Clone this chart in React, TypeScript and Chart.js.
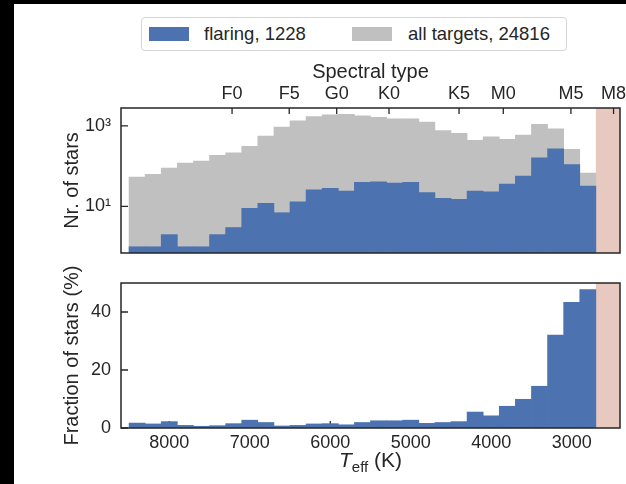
import React, { useEffect, useRef } from "react";
import { Chart, registerables } from "chart.js";

Chart.register(...registerables);

// 200 K wide Teff bins, centres from hot to cool
const binCenters = [
  8400, 8200, 8000, 7800, 7600, 7400, 7200, 7000, 6800, 6600, 6400, 6200, 6000, 5800, 5600,
  5400, 5200, 5000, 4800, 4600, 4400, 4200, 4000, 3800, 3600, 3400, 3200, 3000, 2800,
];
const allTargets = [
  54, 63, 90, 120, 134, 186, 215, 310, 557, 929, 1330, 1710, 1870, 1945, 1765, 1640, 1490, 1490,
  1235, 770, 650, 437, 535, 461, 589, 1100, 843, 261, 67,
];
const flaring = [
  1, 1, 2, 1, 1, 2, 3, 9, 12, 7, 13, 26, 28, 24, 40, 41, 38, 40, 22, 16, 15, 24, 23, 36, 57, 162,
  270, 109, 32,
];
const flaringFraction = [
  1.7, 1.4, 2.2, 0.9, 0.6, 0.8, 1.5, 2.7, 1.9, 0.7, 0.9, 1.4, 1.5, 1.1, 1.9, 2.5, 2.5, 2.7, 1.6,
  1.9, 2.2, 5.5, 4.2, 7.5, 9.9, 14.4, 32.0, 43.3, 47.7,
];
const spectralTypes = ["F0", "F5", "G0", "K0", "K5", "M0", "M5", "M8"];
const spectralTeff = [7220, 6510, 5920, 5270, 4400, 3850, 3010, 2480];
const teffTicks = [8000, 7000, 6000, 5000, 4000, 3000];
const countTicks = [10, 1000];
const countTickLabels = ["10\u00B9", "10\u00B3"];
const fractionTicks = [0, 20, 40];
const legendLabels = ["flaring, 1228", "all targets, 24816"];

const TEFF_MIN = 2400;
const TEFF_MAX = 8600;
const UNCOVERED_FROM = 2700;

const FONT = '"Liberation Sans", Arial, Helvetica, sans-serif';
const INK = "#262626";
const BLUE = "#4c72b0";
const GRAY = "#c0c0c0";
const SPAN = "rgb(232,201,192)";

type TickSpec = { axis: string; values: number[]; len: number; side: "left" | "top" | "bottom" };

// shaded Teff range, inward tick marks (under the bars) and the axes frame
function panelDecor(id: string, ticks: TickSpec[]) {
  return {
    id,
    beforeDatasetsDraw(chart: any) {
      const { ctx, chartArea: a, scales } = chart;
      const x0 = scales.x.getPixelForValue(UNCOVERED_FROM);
      ctx.save();
      ctx.fillStyle = SPAN;
      ctx.fillRect(x0, a.top, a.right - x0, a.bottom - a.top);
      ctx.strokeStyle = INK;
      ctx.lineWidth = 1.3;
      ctx.beginPath();
      for (const t of ticks) {
        const s = scales[t.axis];
        for (const v of t.values) {
          const p = s.getPixelForValue(v);
          if (t.side === "left") {
            ctx.moveTo(a.left, p);
            ctx.lineTo(a.left + t.len, p);
          } else if (t.side === "top") {
            ctx.moveTo(p, a.top);
            ctx.lineTo(p, a.top + t.len);
          } else {
            ctx.moveTo(p, a.bottom);
            ctx.lineTo(p, a.bottom - t.len);
          }
        }
      }
      ctx.stroke();
      ctx.restore();
    },
    afterDatasetsDraw(chart: any) {
      const { ctx, chartArea: a } = chart;
      ctx.save();
      ctx.strokeStyle = INK;
      ctx.lineWidth = 1.5;
      ctx.strokeRect(a.left, a.top, a.right - a.left, a.bottom - a.top);
      ctx.restore();
    },
  };
}

// x-axis title with italic T and subscript "eff"
const teffTitle = {
  id: "teffTitle",
  afterDraw(chart: any) {
    const { ctx, chartArea: a } = chart;
    const cx = (a.left + a.right) / 2;
    const base = a.bottom + 39;
    const fT = `italic 21px ${FONT}`;
    const fSub = `15px ${FONT}`;
    const fMain = `21px ${FONT}`;
    ctx.save();
    ctx.fillStyle = INK;
    ctx.textBaseline = "alphabetic";
    ctx.textAlign = "left";
    ctx.font = fT;
    const wT = ctx.measureText("T").width;
    ctx.font = fSub;
    const wS = ctx.measureText("eff").width;
    ctx.font = fMain;
    const wK = ctx.measureText(" (K)").width;
    let x = cx - (wT + wS + wK) / 2;
    ctx.font = fT;
    ctx.fillText("T", x, base);
    x += wT;
    ctx.font = fSub;
    ctx.fillText("eff", x, base + 5);
    x += wS;
    ctx.font = fMain;
    ctx.fillText(" (K)", x, base);
    ctx.restore();
  },
};

const tickFont = { family: FONT, size: 18 };
const titleFont = { family: FONT, size: 20 };

function barSet(label: string, values: number[], color: string, order: number) {
  return {
    label,
    data: binCenters.map((t, i) => ({ x: t, y: values[i] })),
    backgroundColor: color,
    borderWidth: 0,
    grouped: false,
    barPercentage: 1,
    categoryPercentage: 1,
    order,
  };
}

const hiddenX = {
  type: "linear" as const,
  reverse: true,
  min: TEFF_MIN,
  max: TEFF_MAX,
  offset: false,
  display: false,
  grid: { offset: false },
};

export default function App() {
  const topRef = useRef<HTMLCanvasElement>(null);
  const botRef = useRef<HTMLCanvasElement>(null);

  useEffect(() => {
    Chart.defaults.font.family = FONT;
    Chart.defaults.color = INK;

    const countChart = new Chart(topRef.current!, {
      type: "bar",
      data: {
        datasets: [
          barSet(legendLabels[0], flaring, BLUE, 0),
          barSet(legendLabels[1], allTargets, GRAY, 1),
        ],
      },
      options: {
        animation: false,
        responsive: false,
        maintainAspectRatio: false,
        layout: { padding: { left: 0, right: 6, top: 0, bottom: 9 } },
        plugins: { legend: { display: false }, tooltip: { enabled: false } },
        scales: {
          x: hiddenX,
          x2: {
            type: "linear",
            position: "top",
            reverse: true,
            min: TEFF_MIN,
            max: TEFF_MAX,
            offset: false,
            grid: { display: false, drawTicks: false },
            border: { display: false },
            ticks: {
              autoSkip: false,
              maxRotation: 0,
              padding: 3.5,
              font: tickFont,
              color: INK,
              callback: (v: any) => spectralTypes[spectralTeff.indexOf(Number(v))] ?? "",
            },
            afterBuildTicks: (s: any) => {
              s.ticks = spectralTeff.map((v) => ({ value: v }));
            },
            afterFit: (s: any) => {
              s.height = 53;
              s.paddingLeft = 0;
              s.paddingRight = 0;
            },
            title: {
              display: true,
              text: "Spectral type",
              font: titleFont,
              color: INK,
              padding: { top: 5, bottom: 0 },
            },
          },
          y: {
            type: "logarithmic",
            min: 0.73,
            max: 2780,
            grid: { display: false, drawTicks: false },
            border: { display: false },
            ticks: {
              padding: 10,
              font: tickFont,
              color: INK,
              callback: (v: any) => countTickLabels[countTicks.indexOf(Number(v))] ?? "",
            },
            afterBuildTicks: (s: any) => {
              s.ticks = countTicks.map((v) => ({ value: v }));
            },
            afterFit: (s: any) => {
              s.width = 121;
              s.paddingTop = 0;
              s.paddingBottom = 0;
            },
            title: {
              display: true,
              text: "Nr. of stars",
              font: titleFont,
              color: INK,
              padding: { top: 60, bottom: 0 },
            },
          },
        },
      } as any,
      plugins: [
        panelDecor("countDecor", [
          { axis: "y", values: countTicks, len: 7, side: "left" },
          { axis: "x2", values: spectralTeff, len: 6, side: "top" },
        ]),
      ],
    });

    const fractionChart = new Chart(botRef.current!, {
      type: "bar",
      data: {
        datasets: [barSet("flaring fraction", flaringFraction, BLUE, 0)],
      },
      options: {
        animation: false,
        responsive: false,
        maintainAspectRatio: false,
        layout: { padding: { left: 0, right: 6, top: 18, bottom: 0 } },
        plugins: { legend: { display: false }, tooltip: { enabled: false } },
        scales: {
          x: {
            type: "linear",
            reverse: true,
            min: TEFF_MIN,
            max: TEFF_MAX,
            offset: false,
            grid: { display: false, drawTicks: false, offset: false },
            border: { display: false },
            ticks: {
              autoSkip: false,
              maxRotation: 0,
              padding: 4,
              font: tickFont,
              color: INK,
              callback: (v: any) => String(v),
            },
            afterBuildTicks: (s: any) => {
              s.ticks = teffTicks.map((v) => ({ value: v }));
            },
            afterFit: (s: any) => {
              s.height = 56;
              s.paddingLeft = 0;
              s.paddingRight = 0;
            },
          },
          y: {
            type: "linear",
            min: 0,
            max: 50,
            grid: { display: false, drawTicks: false },
            border: { display: false },
            ticks: { padding: 10, font: tickFont, color: INK, callback: (v: any) => String(v) },
            afterBuildTicks: (s: any) => {
              s.ticks = fractionTicks.map((v) => ({ value: v }));
            },
            afterFit: (s: any) => {
              s.width = 121;
              s.paddingTop = 0;
              s.paddingBottom = 0;
            },
            title: {
              display: true,
              text: "Fraction of stars (%)",
              font: titleFont,
              color: INK,
              padding: { top: 60, bottom: 0 },
            },
          },
        },
      } as any,
      plugins: [
        panelDecor("fractionDecor", [
          { axis: "y", values: fractionTicks, len: 7, side: "left" },
          { axis: "x", values: teffTicks, len: 7, side: "bottom" },
        ]),
        teffTitle,
      ],
    });

    return () => {
      countChart.destroy();
      fractionChart.destroy();
    };
  }, []);

  const legendText: React.CSSProperties = {
    position: "absolute",
    top: 0,
    lineHeight: "32px",
    fontSize: 18.5,
    fontFamily: FONT,
    color: INK,
    whiteSpace: "nowrap",
  };
  const patch = (left: number, color: string): React.CSSProperties => ({
    position: "absolute",
    left,
    top: 9,
    width: 40,
    height: 14,
    background: color,
  });

  return (
    <div
      style={{
        position: "fixed",
        left: 0,
        top: 0,
        width: 626,
        height: 484,
        background: "#000",
        overflow: "hidden",
      }}
    >
      <div
        style={{ position: "absolute", left: 14, top: 4, right: 0, bottom: 0, background: "#fff" }}
      />
      <div
        style={{
          position: "absolute",
          left: 141,
          top: 17,
          width: 426,
          height: 34,
          boxSizing: "border-box",
          border: "1px solid #d4d4d4",
          borderRadius: 4,
          background: "#fff",
        }}
      >
        <div style={patch(7, BLUE)} />
        <div style={{ ...legendText, left: 62 }}>{legendLabels[0]}</div>
        <div style={patch(210, GRAY)} />
        <div style={{ ...legendText, left: 266 }}>{legendLabels[1]}</div>
      </div>
      <canvas
        ref={topRef}
        width={626}
        height={207}
        style={{ position: "absolute", left: 0, top: 55, width: 626, height: 207 }}
      />
      <canvas
        ref={botRef}
        width={626}
        height={219}
        style={{ position: "absolute", left: 0, top: 265, width: 626, height: 219 }}
      />
    </div>
  );
}
